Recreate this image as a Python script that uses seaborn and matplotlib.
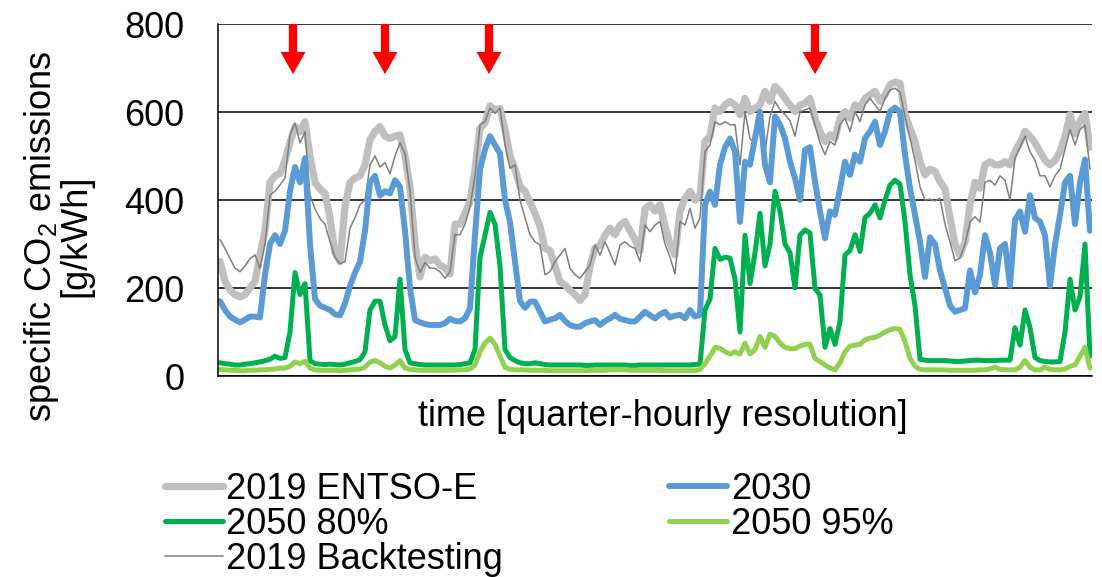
import numpy as np
import matplotlib
matplotlib.use("Agg")
import matplotlib.pyplot as plt
import seaborn as sns

# values, one sample every 5 quarter-hours
entsoe_2019 = [
    260, 215, 195, 185, 180, 185, 200, 215, 275, 330,
    440, 455, 460, 490, 530, 567, 555, 578, 500, 440,
    425, 415, 360, 280, 260, 385, 440, 450, 455, 480,
    537, 556, 567, 545, 540, 545, 548, 500, 430, 300,
    225, 270, 262, 266, 252, 245, 232, 345, 345, 370,
    396, 470, 563, 575, 614, 605, 608, 560, 500, 470,
    430, 420, 395, 370, 340, 290, 285, 250, 214, 207,
    195, 185, 172, 185, 250, 290, 298, 320, 336, 321,
    343, 351, 330, 310, 285, 380, 389, 375, 389, 340,
    300, 275, 374, 404, 420, 400, 411, 533, 545, 609,
    601, 616, 624, 616, 594, 631, 601, 609, 616, 647,
    624, 658, 647, 631, 616, 601, 616, 620, 631, 586,
    556, 533, 548, 540, 586, 601, 586, 616, 609, 631,
    639, 647, 624, 639, 662, 668, 665, 594, 563, 533,
    487, 457, 470, 465, 442, 425, 360, 300, 275, 305,
    390, 440, 427, 480, 487, 480, 480, 487, 480, 510,
    530, 556, 545, 530, 510, 490, 480, 490, 510, 545,
    594, 550, 580, 597, 520,
]
backtesting_2019 = [
    310, 290, 267, 245, 237, 250, 267, 275, 245, 300,
    411, 420, 434, 450, 548, 575, 530, 555, 411, 380,
    358, 345, 305, 270, 255, 260, 336, 360, 389, 400,
    480, 500, 475, 485, 460, 500, 530, 505, 420, 270,
    235, 258, 245, 245, 237, 222, 237, 321, 321, 345,
    385, 455, 571, 578, 609, 597, 609, 525, 472, 480,
    400, 360, 321, 305, 298, 230, 237, 260, 275, 290,
    245, 230, 222, 237, 252, 298, 275, 305, 280, 252,
    298, 305, 295, 290, 260, 343, 328, 343, 351, 300,
    270, 232, 351, 343, 381, 336, 359, 510, 525, 578,
    571, 578, 571, 571, 480, 600, 540, 525, 571, 510,
    590, 624, 605, 594, 580, 545, 601, 605, 609, 570,
    530, 503, 533, 525, 571, 586, 556, 601, 578, 616,
    631, 616, 601, 631, 650, 654, 645, 590, 540, 490,
    430, 400, 402, 398, 404, 345, 305, 262, 268, 300,
    350, 362, 350, 440, 445, 434, 455, 445, 400, 495,
    520, 545, 510, 490, 455, 455, 430, 455, 470, 515,
    560, 525, 560, 570, 470,
]
scen_2030 = [
    170, 150, 135, 128, 122, 128, 135, 135, 133, 230,
    300, 320, 300, 330, 420, 475, 440, 495, 300, 175,
    160, 155, 150, 140, 138, 165, 205, 235, 260, 330,
    440, 455, 410, 420, 415, 445, 430, 330, 200, 127,
    122, 118, 116, 116, 116, 120, 130, 125, 124, 131,
    154, 320, 470, 515, 545, 525, 506, 400, 350, 260,
    170, 155, 169, 169, 146, 124, 128, 131, 139, 125,
    116, 112, 112, 120, 124, 127, 116, 125, 131, 139,
    130, 127, 124, 124, 135, 146, 138, 131, 140, 146,
    133, 137, 139, 131, 150, 135, 139, 389, 419, 389,
    480, 520, 540, 510, 350, 487, 480, 540, 601, 480,
    440, 590, 571, 540, 487, 450, 400, 514, 520, 442,
    374, 313, 374, 366, 427, 487, 457, 503, 487, 540,
    556, 578, 525, 556, 601, 610, 600, 503, 427, 366,
    305, 225, 315, 300, 240, 200, 160, 146, 150, 154,
    240, 190, 230, 320, 280, 207, 290, 300, 205, 355,
    374, 328, 411, 359, 351, 320, 205, 298, 366, 440,
    455, 345, 440, 492, 330,
]
scen_2050_80 = [
    30, 28, 27, 25, 25, 27, 28, 30, 32, 35,
    38, 45, 40, 42, 100, 235, 185, 210, 35, 28,
    27, 26, 27, 26, 25, 27, 30, 33, 37, 55,
    150, 170, 170, 116, 80, 90, 220, 60, 30, 28,
    26, 25, 25, 25, 25, 25, 25, 25, 26, 28,
    30, 60, 270, 320, 372, 345, 250, 60, 42, 35,
    30, 28, 28, 30, 28, 26, 25, 25, 25, 25,
    25, 25, 25, 24, 24, 25, 25, 25, 25, 25,
    25, 25, 24, 24, 25, 25, 25, 25, 25, 25,
    25, 25, 25, 25, 25, 26, 27, 150, 175, 290,
    265, 270, 268, 220, 100, 320, 210, 280, 370, 250,
    300, 420, 375, 300, 280, 200, 320, 332, 325, 199,
    184, 65, 108, 72, 124, 275, 285, 321, 283, 360,
    370, 389, 359, 400, 434, 445, 436, 351, 230, 160,
    38, 36, 35, 35, 35, 35, 34, 33, 33, 34,
    35, 36, 36, 35, 35, 35, 36, 36, 36, 110,
    70, 150, 110, 42, 35, 33, 32, 32, 33, 100,
    220, 150, 180, 300, 45,
]
scen_2050_95 = [
    15, 14, 13, 13, 12, 12, 13, 13, 14, 14,
    15, 16, 18, 18, 22, 32, 28, 33, 18, 14,
    13, 13, 13, 13, 12, 13, 14, 15, 16, 20,
    32, 35, 30, 22, 18, 25, 35, 18, 15, 14,
    13, 13, 13, 13, 13, 13, 13, 13, 14, 14,
    16, 25, 55, 75, 86, 72, 45, 20, 15, 14,
    14, 14, 13, 13, 13, 13, 12, 12, 12, 12,
    12, 12, 12, 12, 13, 13, 13, 13, 14, 14,
    14, 14, 13, 13, 13, 13, 13, 13, 13, 12,
    12, 12, 12, 12, 12, 12, 15, 28, 45, 65,
    63, 55, 50, 55, 50, 75, 50, 60, 90, 65,
    95, 90, 75, 65, 62, 62, 68, 72, 72, 40,
    33, 25, 18, 14, 30, 55, 68, 70, 72, 82,
    86, 88, 93, 100, 105, 108, 106, 78, 40, 22,
    15, 14, 14, 14, 14, 14, 13, 13, 13, 13,
    13, 13, 14, 14, 16, 20, 15, 14, 14, 14,
    20, 35, 20, 14, 14, 20, 15, 14, 14, 16,
    22, 25, 45, 65, 18,
]
# times (quarter-hour index) marked with red arrows
arrow_times = [73, 165, 269, 595]

labels = ["2019 ENTSO-E", "2030", "2050 80%", "2050 95%", "2019 Backtesting"]

sns.set_style("white")
plt.rcParams["font.family"] = ["Liberation Sans", "DejaVu Sans"]
plt.rcParams["mathtext.fontset"] = "custom"
plt.rcParams["mathtext.rm"] = "Liberation Sans"
plt.rcParams["mathtext.it"] = "Liberation Sans:italic"
plt.rcParams["text.color"] = "black"
plt.rcParams["ytick.color"] = "black"
fs = 26

t = np.arange(len(entsoe_2019)) * 5

fig = plt.figure(figsize=(11.02, 5.77), dpi=100)
ax = fig.add_axes([218 / 1102, 1 - 376 / 577, 874 / 1102, 352 / 577])

sns.lineplot(x=t, y=entsoe_2019, ax=ax, color="#BFBFBF", linewidth=5.2, label=labels[0])
sns.lineplot(x=t, y=backtesting_2019, ax=ax, color="#7F7F7F", linewidth=1.1, label=labels[4])
sns.lineplot(x=t, y=scen_2030, ax=ax, color="#5B9BD5", linewidth=4.3, label=labels[1])
sns.lineplot(x=t, y=scen_2050_80, ax=ax, color="#00B050", linewidth=3.6, label=labels[2])
sns.lineplot(x=t, y=scen_2050_95, ax=ax, color="#92D050", linewidth=3.6, label=labels[3])

ax.set_xlim(-2, 872)
ax.set_ylim(0, 800)
ax.set_yticks([0, 200, 400, 600, 800])
ax.set_xticks([])
ax.yaxis.grid(True, color="black", linewidth=1.1)
ax.set_axisbelow(True)
ax.tick_params(axis="y", length=0, pad=24, labelsize=fs, labelcolor="black")
for side in ["top", "right"]:
    ax.spines[side].set_visible(False)
for side in ["left", "bottom"]:
    ax.spines[side].set_color("black")
    ax.spines[side].set_linewidth(1.1)
ax.set_xlabel("")
ax.set_ylabel("")

for tp in arrow_times:
    ax.annotate("", xy=(tp, 686), xytext=(tp, 800),
                arrowprops=dict(facecolor="#FF0000", edgecolor="none", width=6,
                                headwidth=18, headlength=16, shrink=0),
                annotation_clip=False)

fig.text(58 / 1102, 1 - 236 / 577, "specific CO$_2$ emissions\n[g/kWh]",
         rotation=90, ha="center", va="center", multialignment="center",
         fontsize=fs, linespacing=0.9)
fig.text(663 / 1102, 1 - 417 / 577, "time [quarter-hourly resolution]",
         ha="center", va="center", fontsize=fs)

handles = {h.get_label(): h for h in ax.get_lines() if h.get_label() in labels}
order = ["2019 ENTSO-E", "2050 80%", "2019 Backtesting", "2030", "2050 95%"]
ax.legend([handles[k] for k in order], order, ncol=2, frameon=False,
          loc="upper left", bbox_to_anchor=(165 / 1102, 1 - 472 / 577),
          bbox_transform=fig.transFigure, borderpad=0, borderaxespad=0,
          fontsize=fs, handlelength=1.6, handletextpad=0.1,
          columnspacing=4.6, labelspacing=0.0)

fig.savefig("out.png", dpi=100)
